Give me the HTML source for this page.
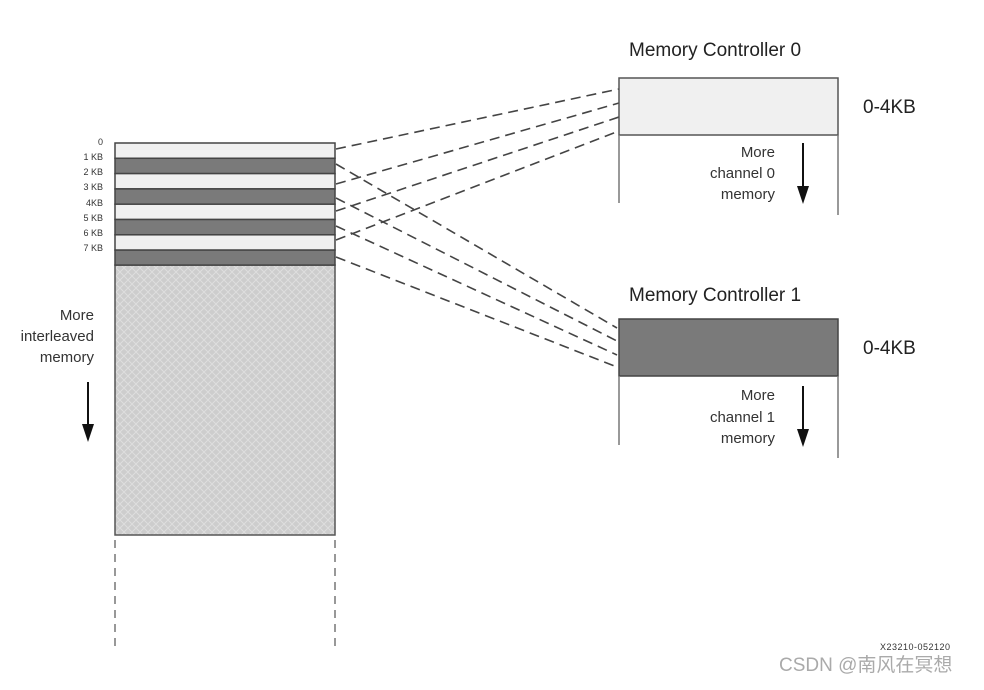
<!DOCTYPE html>
<html><head><style>
body{margin:0;background:#fff;}
svg text{font-family:"Liberation Sans",sans-serif;}
</style></head><body>
<svg width="984" height="685" viewBox="0 0 984 685" xmlns="http://www.w3.org/2000/svg">
<defs>
<pattern id="h" width="8" height="8" patternUnits="userSpaceOnUse">
<rect width="8" height="8" fill="#cdcdcd"/>
<path d="M0 0L8 8M8 0L0 8" stroke="#dedede" stroke-width="1"/>
</pattern>
</defs>
<rect x="115" y="265" width="220" height="270" fill="url(#h)" stroke="#555" stroke-width="1.5"/>
<g stroke="#444" stroke-width="1.5">
<rect x="115" y="143" width="220" height="15.3" fill="#f0f0f0"/>
<rect x="115" y="158.3" width="220" height="15.3" fill="#7a7a7a"/>
<rect x="115" y="173.6" width="220" height="15.3" fill="#f0f0f0"/>
<rect x="115" y="188.9" width="220" height="15.3" fill="#7a7a7a"/>
<rect x="115" y="204.2" width="220" height="15.3" fill="#f0f0f0"/>
<rect x="115" y="219.5" width="220" height="15.3" fill="#7a7a7a"/>
<rect x="115" y="234.8" width="220" height="15.3" fill="#f0f0f0"/>
<rect x="115" y="250.1" width="220" height="15" fill="#7a7a7a"/>
</g>
<g stroke="#777" stroke-width="1.5" stroke-dasharray="8,6">
<line x1="115" y1="540" x2="115" y2="650"/>
<line x1="335" y1="540" x2="335" y2="650"/>
</g>
<g font-size="9" fill="#333" text-anchor="end">
<text x="103" y="145">0</text>
<text x="103" y="160">1 KB</text>
<text x="103" y="175">2 KB</text>
<text x="103" y="190">3 KB</text>
<text x="103" y="206">4KB</text>
<text x="103" y="221">5 KB</text>
<text x="103" y="236">6 KB</text>
<text x="103" y="251">7 KB</text>
</g>
<g font-size="15" fill="#333" text-anchor="end">
<text x="94" y="320">More</text>
<text x="94" y="341">interleaved</text>
<text x="94" y="362">memory</text>
</g>
<line x1="88" y1="382" x2="88" y2="428" stroke="#111" stroke-width="2"/>
<polygon points="82,424 94,424 88,442" fill="#111"/>
<g stroke="#444" stroke-width="1.6" stroke-dasharray="10,6">
<line x1="336" y1="149" x2="619" y2="89"/>
<line x1="336" y1="184" x2="619" y2="103"/>
<line x1="336" y1="211" x2="619" y2="117"/>
<line x1="336" y1="240" x2="619" y2="131"/>
<line x1="336" y1="164" x2="617" y2="328"/>
<line x1="336" y1="198" x2="617" y2="341"/>
<line x1="336" y1="226" x2="617" y2="355"/>
<line x1="336" y1="257" x2="617" y2="367"/>
</g>
<text x="629" y="56" font-size="19" fill="#222">Memory Controller 0</text>
<rect x="619" y="78" width="219" height="57" fill="#f0f0f0" stroke="#555" stroke-width="1.5"/>
<line x1="619" y1="135" x2="619" y2="203" stroke="#777" stroke-width="1.5"/>
<line x1="838" y1="135" x2="838" y2="215" stroke="#777" stroke-width="1.5"/>
<text x="863" y="113" font-size="19" fill="#222">0-4KB</text>
<g font-size="15" fill="#333" text-anchor="end">
<text x="775" y="157">More</text>
<text x="775" y="178">channel 0</text>
<text x="775" y="199">memory</text>
</g>
<line x1="803" y1="143" x2="803" y2="190" stroke="#111" stroke-width="2"/>
<polygon points="797,186 809,186 803,204" fill="#111"/>
<text x="629" y="301" font-size="19" fill="#222">Memory Controller 1</text>
<rect x="619" y="319" width="219" height="57" fill="#7a7a7a" stroke="#444" stroke-width="1.5"/>
<line x1="619" y1="376" x2="619" y2="445" stroke="#777" stroke-width="1.5"/>
<line x1="838" y1="376" x2="838" y2="458" stroke="#777" stroke-width="1.5"/>
<text x="863" y="354" font-size="19" fill="#222">0-4KB</text>
<g font-size="15" fill="#333" text-anchor="end">
<text x="775" y="400">More</text>
<text x="775" y="422">channel 1</text>
<text x="775" y="443">memory</text>
</g>
<line x1="803" y1="386" x2="803" y2="433" stroke="#111" stroke-width="2"/>
<polygon points="797,429 809,429 803,447" fill="#111"/>
<text x="880" y="650" font-size="9" fill="#333" textLength="70">X23210-052120</text>
<text x="779" y="671" font-size="19" fill="#aaa" font-family="'Liberation Sans','Noto Sans CJK SC',sans-serif">CSDN @南风在冥想</text>
</svg>
</body></html>
